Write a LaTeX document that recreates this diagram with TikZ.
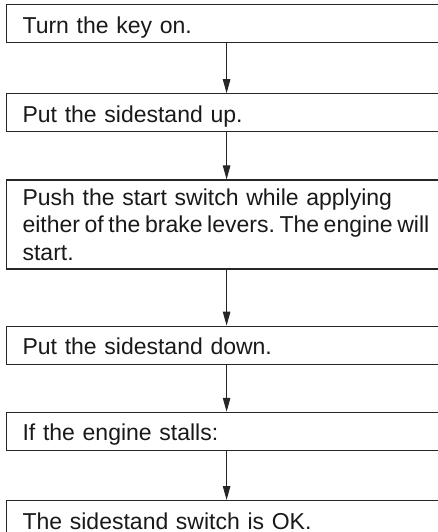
\documentclass[tikz,border=0pt]{standalone}
\usepackage{fontspec}
\setmainfont{Liberation Sans}
\usetikzlibrary{positioning,arrows.meta}
\frenchspacing

\begin{document}
\begin{tikzpicture}[x=1pt,y=1pt,
    box/.style={rectangle,draw=black!85,line width=1.2pt,text=black!90,
      minimum width=440pt,text width=408pt,inner xsep=16pt,inner ysep=0pt,
      align=left,font=\fontsize{23}{27.5}\selectfont},
    onebox/.style={box,minimum height=38pt,text height=19pt,text depth=0pt},
    arr/.style={draw=black!85,line width=1pt,-{Triangle[length=14pt,width=7.5pt]}}]
    \useasboundingbox (0,0) rectangle (438,-532);
    \clip (0,0) rectangle (438,-532);
    \node[onebox,anchor=north west] (key) at (6,-4) {Turn the key on.};
    \node[onebox,below=50pt of key] (up) {Put the sidestand up.};
    \node[box,minimum height=89pt,below=47pt of up] (push)
      {\mbox{Push the start switch while applying}\\
       \mbox{\spaceskip=0.2em either of the brake levers. The engine will}\\
       start.};
    \node[onebox,below=56pt of push] (down) {Put the sidestand down.};
    \node[onebox,below=47pt of down] (stall) {If the engine stalls:};
    \node[onebox,below=49pt of stall] (ok) {The sidestand switch is OK.};
    \draw[arr] (key) -- (up);
    \draw[arr] (up) -- (push);
    \draw[arr] (push) -- (down);
    \draw[arr] (down) -- (stall);
    \draw[arr] (stall) -- (ok);
  \end{tikzpicture}
\end{document}
